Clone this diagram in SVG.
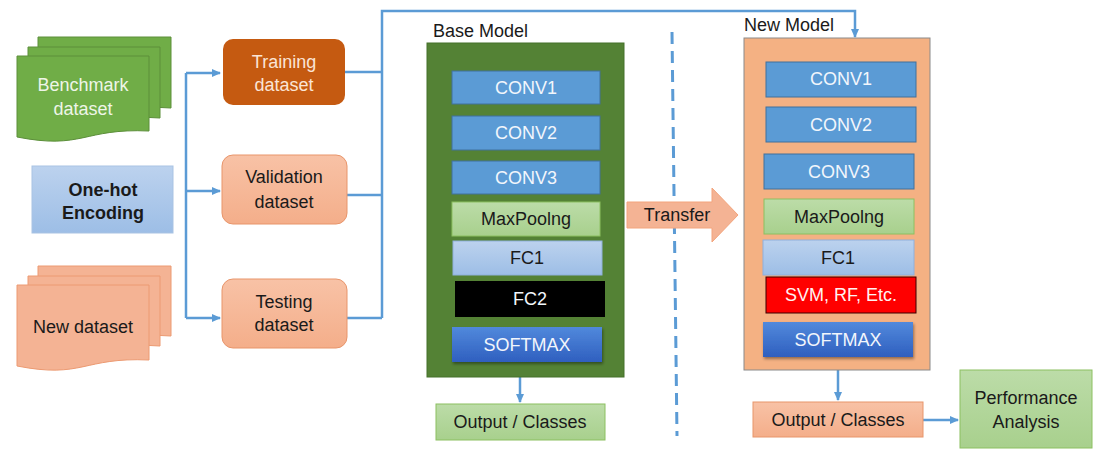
<svg xmlns="http://www.w3.org/2000/svg" width="1101" height="460" viewBox="0 0 1101 460">
<style>
text{font-family:"Liberation Sans",Arial,sans-serif;font-size:18px;text-anchor:middle;dominant-baseline:central}
.conn{fill:none;stroke:#5b9bd5;stroke-width:2.5}
.conv{fill:#5b9bd5;stroke:#41719c;stroke-width:1}
.wt{fill:#f2f6fc}
.dk{fill:#1a1a1a}
.pool{fill:url(#gGreen);stroke:#8cc060;stroke-width:1}
.fc{fill:url(#gLBlue);stroke:#8fb0dc;stroke-width:1}
.orange{fill:url(#gOrange);stroke:#e8956b;stroke-width:1}
</style>
<defs>
<marker id="ah" markerWidth="10" markerHeight="10" refX="8" refY="5" orient="auto" markerUnits="userSpaceOnUse">
<path d="M0,1 L9,5 L0,9 Z" fill="#5b9bd5"/>
</marker>
<linearGradient id="gGreen" x1="0" y1="0" x2="0" y2="1"><stop offset="0" stop-color="#bcdca8"/><stop offset="1" stop-color="#a8d08d"/></linearGradient>
<linearGradient id="gLBlue" x1="0" y1="0" x2="0" y2="1"><stop offset="0" stop-color="#bcd2ee"/><stop offset="1" stop-color="#9dbee6"/></linearGradient>
<linearGradient id="gOrange" x1="0" y1="0" x2="0" y2="1"><stop offset="0" stop-color="#f8c2a6"/><stop offset="1" stop-color="#f4ae8a"/></linearGradient>
<linearGradient id="gSoft" x1="0" y1="0" x2="0" y2="1"><stop offset="0" stop-color="#5189dc"/><stop offset="1" stop-color="#2f5fbf"/></linearGradient>
<filter id="sh" x="-10%" y="-20%" width="120%" height="150%"><feDropShadow dx="1" dy="2" stdDeviation="1.5" flood-color="#000" flood-opacity="0.4"/></filter>
</defs>

<g id="connectors">
<path class="conn" d="M186,73 V318"/>
<path class="conn" d="M186,73 H220" marker-end="url(#ah)"/>
<path class="conn" d="M186,191 H220" marker-end="url(#ah)"/>
<path class="conn" d="M186,318 H220" marker-end="url(#ah)"/>
<path class="conn" d="M345,72 H382 M347,195 H382 M347,318 H382"/>
<path class="conn" d="M382,318 V11 H855 V37" marker-end="url(#ah)"/>
<path class="conn" d="M520,377 V402" marker-end="url(#ah)"/>
<path class="conn" d="M838,370 V400" marker-end="url(#ah)"/>
<path class="conn" d="M923,420 H958" marker-end="url(#ah)"/>
<path d="M672,32 L677,436" fill="none" stroke="#5b9bd5" stroke-width="3" stroke-dasharray="12,7"/>
</g>

<g id="benchmark">
<path d="M38,37 H171 V108 C 105,104 105,118 38,114 Z" fill="#70ad47" stroke="#5c8f3a" stroke-width="1"/>
<path d="M28,47 H160 V118 C 94,114 94,128 28,124 Z" fill="#70ad47" stroke="#5c8f3a" stroke-width="1"/>
<path d="M17,56 H149 V131 C 83,128 83,150 17,137 Z" fill="#70ad47" stroke="#5c8f3a" stroke-width="1"/>
<text x="83" y="85" fill="#eef5e8">Benchmark</text>
<text x="83" y="109" fill="#eef5e8">dataset</text>
</g>

<g id="onehot">
<rect x="32" y="166" width="141" height="67" fill="url(#gLBlue)" stroke="#a9c3e3" stroke-width="1"/>
<text x="103" y="190" font-weight="bold" class="dk">One-hot</text>
<text x="103" y="213" font-weight="bold" class="dk">Encoding</text>
</g>

<g id="newdataset">
<path d="M38,266 H171 V336 C 105,332 105,346 38,342 Z" fill="#f4b394" stroke="#ec9a72" stroke-width="1"/>
<path d="M28,276 H160 V346 C 94,342 94,356 28,352 Z" fill="#f4b394" stroke="#ec9a72" stroke-width="1"/>
<path d="M17,285 H149 V360 C 83,357 83,379 17,366 Z" fill="#f4b394" stroke="#ec9a72" stroke-width="1"/>
<text x="83" y="327" class="dk">New dataset</text>
</g>

<g id="training">
<rect x="223" y="39" width="122" height="66" rx="10" fill="#c55a11"/>
<text x="284" y="62" fill="#fbe5d6">Training</text>
<text x="284" y="85" fill="#fbe5d6">dataset</text>
</g>
<g id="validation">
<rect x="222" y="155" width="125" height="69" rx="11" class="orange"/>
<text x="284" y="177" class="dk">Validation</text>
<text x="284" y="202" class="dk">dataset</text>
</g>
<g id="testing">
<rect x="222" y="279" width="125" height="69" rx="11" class="orange"/>
<text x="284" y="302" class="dk">Testing</text>
<text x="284" y="325" class="dk">dataset</text>
</g>

<g id="basemodel">
<text x="433" y="31" class="dk" style="text-anchor:start">Base Model</text>
<rect x="427" y="43" width="197" height="334" fill="#548235" stroke="#44702a" stroke-width="1"/>
<g id="b-conv1"><rect x="452" y="71" width="148" height="33" class="conv"/><text x="526" y="88" class="wt" font-size="17">CONV1</text></g>
<g id="b-conv2"><rect x="452" y="116" width="148" height="34" class="conv"/><text x="526" y="133" class="wt" font-size="17">CONV2</text></g>
<g id="b-conv3"><rect x="452" y="161" width="148" height="33" class="conv"/><text x="526" y="178" class="wt" font-size="17">CONV3</text></g>
<g id="b-pool"><rect x="452" y="202" width="148" height="34" class="pool"/><text x="526" y="219" class="dk">MaxPoolng</text></g>
<g id="b-fc1"><rect x="453" y="241" width="149" height="34" class="fc"/><text x="527" y="258" class="dk">FC1</text></g>
<g id="b-fc2"><rect x="455" y="281" width="150" height="36" fill="#000"/><text x="530" y="299" class="wt">FC2</text></g>
<g id="b-soft"><rect x="452" y="327" width="150" height="35" fill="url(#gSoft)" filter="url(#sh)"/><text x="527" y="345" class="wt">SOFTMAX</text></g>
</g>

<g id="base-output">
<rect x="436" y="404" width="169" height="36" fill="url(#gGreen)" stroke="#8cc060" stroke-width="1"/>
<text x="520" y="422" class="dk">Output / Classes</text>
</g>

<g id="transfer">
<path d="M627,202 H712 V188 L738,215 L712,242 V228 H627 Z" fill="#f4b394" stroke="#f3a47c" stroke-width="1"/>
<text x="677" y="215" class="dk">Transfer</text>
</g>

<g id="newmodel">
<text x="744" y="25" class="dk" style="text-anchor:start">New Model</text>
<rect x="744" y="38" width="186" height="332" fill="#f4b183" stroke="#8a8a8a" stroke-width="1"/>
<g id="n-conv1"><rect x="766" y="62" width="150" height="35" class="conv"/><text x="841" y="79" class="wt" font-size="17">CONV1</text></g>
<g id="n-conv2"><rect x="766" y="107" width="150" height="35" class="conv"/><text x="841" y="125" class="wt" font-size="17">CONV2</text></g>
<g id="n-conv3"><rect x="764" y="154" width="150" height="35" class="conv"/><text x="839" y="172" class="wt" font-size="17">CONV3</text></g>
<g id="n-pool"><rect x="764" y="199" width="150" height="35" class="pool"/><text x="839" y="217" class="dk">MaxPoolng</text></g>
<g id="n-fc1"><rect x="763" y="240" width="151" height="35" class="fc"/><text x="838" y="258" class="dk">FC1</text></g>
<g id="n-svm"><rect x="766" y="277" width="150" height="36" fill="#ff0000" stroke="#3a0000" stroke-width="1"/><text x="841" y="295" fill="#fff2f2">SVM, RF, Etc.</text></g>
<g id="n-soft"><rect x="763" y="322" width="150" height="35" fill="url(#gSoft)" filter="url(#sh)"/><text x="838" y="340" class="wt">SOFTMAX</text></g>
</g>

<g id="new-output">
<rect x="753" y="402" width="170" height="35" class="orange"/>
<text x="838" y="420" class="dk">Output / Classes</text>
</g>

<g id="performance">
<rect x="960" y="370" width="132" height="78" fill="url(#gGreen)" stroke="#8cc060" stroke-width="1"/>
<text x="1026" y="398" class="dk">Performance</text>
<text x="1026" y="422" class="dk">Analysis</text>
</g>
</svg>
